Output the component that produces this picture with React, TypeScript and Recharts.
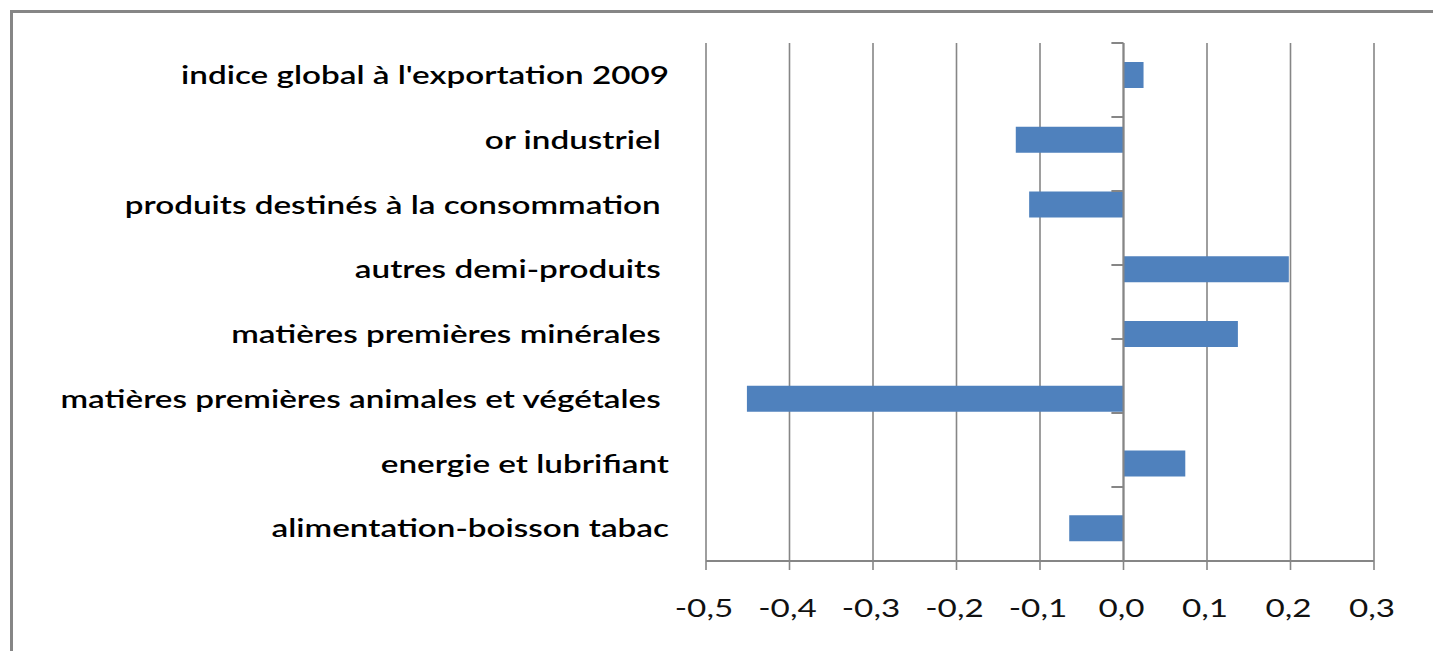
import { Bar, BarChart, CartesianGrid, ReferenceLine, XAxis, YAxis } from "recharts";

// categories listed top to bottom as they appear in the chart
const categories = [
  "indice global à l'exportation 2009",
  "or industriel ",
  "produits destinés à la consommation ",
  "autres demi-produits ",
  "matières premières minérales ",
  "matières premières animales et végétales ",
  "energie et lubrifiant",
  "alimentation-boisson tabac",
];
const values = [0.024, -0.129, -0.113, 0.198, 0.137, -0.451, 0.074, -0.065];
const xTicks = [-0.5, -0.4, -0.3, -0.2, -0.1, 0, 0.1, 0.2, 0.3];
const boundaries = [0, 1, 2, 3, 4, 5, 6, 7, 8];

const AXIS = "#868686";
const BAR = "#4F81BD";
const FONT = "Lato, 'Open Sans', sans-serif";

const data = categories.map((label, i) => ({ label, value: values[i] }));

// the original text is rendered horizontally stretched, hence the scaleX
function CategoryTick({ x, y, payload }: any) {
  return (
    <g transform={`translate(${x},${y})`}>
      <text
        transform="scale(1.33,1)"
        dy="0.35em"
        textAnchor="end"
        fill="#000"
        fontSize={25}
        fontWeight={600}
        fontFamily={FONT}
        style={{ whiteSpace: "pre" }}
      >
        {payload.value}
      </text>
    </g>
  );
}

function ValueTick({ x, y, payload }: any) {
  return (
    <g transform={`translate(${x - 2},${y})`}>
      <text
        transform="scale(1.33,1)"
        dy="0.71em"
        textAnchor="middle"
        fill="#111"
        fontSize={25}
        fontFamily={FONT}
      >
        {payload.value.toFixed(1).replace(".", ",")}
      </text>
    </g>
  );
}

export default function App() {
  return (
    <div
      style={{
        position: "absolute",
        left: 10,
        top: 10,
        width: 1423,
        height: 641,
        borderTop: `3px solid ${AXIS}`,
        borderLeft: `3px solid ${AXIS}`,
        background: "#fff",
      }}
    >
      <BarChart
        width={1420}
        height={638}
        data={data}
        layout="vertical"
        margin={{ top: 30, right: 59, bottom: 30, left: 0 }}
      >
        <CartesianGrid xAxisId="x" yAxisId="cat" horizontal={false} stroke={AXIS} strokeWidth={1.6} />
        <XAxis
          xAxisId="x"
          type="number"
          domain={[-0.5, 0.3]}
          ticks={xTicks}
          interval={0}
          allowDataOverflow
          height={60}
          tickSize={9}
          tickMargin={29}
          axisLine={{ stroke: AXIS, strokeWidth: 2 }}
          tickLine={{ stroke: AXIS, strokeWidth: 1.6 }}
          tick={<ValueTick />}
        />
        <YAxis
          yAxisId="cat"
          type="category"
          dataKey="label"
          width={693}
          axisLine={false}
          tickLine={false}
          tickSize={0}
          tickMargin={-23}
          interval={0}
          tick={<CategoryTick />}
        />
        <YAxis yAxisId="b" type="number" domain={[0, 8]} hide />
        <ReferenceLine xAxisId="x" yAxisId="cat" x={0} stroke={AXIS} strokeWidth={2} />
        {boundaries.map((b) => (
          <ReferenceLine
            key={b}
            xAxisId="x"
            yAxisId="b"
            segment={[
              { x: -0.0145, y: b },
              { x: 0, y: b },
            ]}
            stroke={AXIS}
            strokeWidth={2}
          />
        ))}
        <Bar xAxisId="x" yAxisId="cat" dataKey="value" fill={BAR} barSize={26} isAnimationActive={false} />
      </BarChart>
    </div>
  );
}
